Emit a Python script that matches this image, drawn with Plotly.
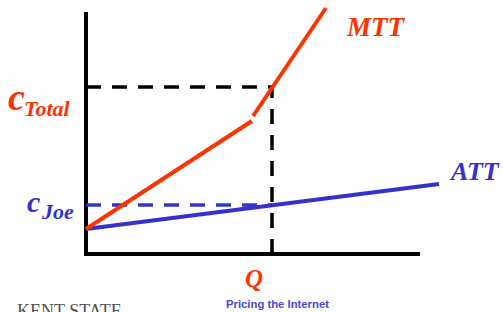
import plotly.graph_objects as go

# Abstract units: quantity on x, cost on y
intercept = 1.0
q_star = 1.0
c_total = 6.68
c_joe = 1.96

mtt_seg1_x = [0.0, 0.892]
mtt_seg1_y = [1.0, 5.32]
mtt_seg2_x = [0.898, 1.29]
mtt_seg2_y = [5.52, 9.84]
att_x = [0.0, 1.898]
att_y = [1.0, 2.8]
x_axis_end = 1.796
y_axis_end = 9.68

RED = "#ff3300"
BLUE = "#3333cc"
DASH = "15px,11px"

fig = go.Figure()
# axes
fig.add_trace(go.Scatter(x=[0, 0, x_axis_end], y=[y_axis_end, 0, 0], mode="lines",
                         line=dict(color="black", width=4), hoverinfo="skip"))
# dashed guides
fig.add_trace(go.Scatter(x=[0, q_star, q_star], y=[c_total, c_total, 0], mode="lines",
                         line=dict(color="black", width=3.5, dash=DASH), hoverinfo="skip"))
fig.add_trace(go.Scatter(x=[0, q_star], y=[c_joe, c_joe], mode="lines",
                         line=dict(color=BLUE, width=3.5, dash=DASH), hoverinfo="skip"))
# curves
fig.add_trace(go.Scatter(x=att_x, y=att_y, mode="lines",
                         line=dict(color=BLUE, width=4), hoverinfo="skip"))
fig.add_trace(go.Scatter(x=mtt_seg1_x, y=mtt_seg1_y, mode="lines",
                         line=dict(color=RED, width=4), hoverinfo="skip"))
fig.add_trace(go.Scatter(x=mtt_seg2_x, y=mtt_seg2_y, mode="lines",
                         line=dict(color=RED, width=4), hoverinfo="skip"))

W, H = 503, 312
def px(x):
    return x / W
def py(y):
    return 1 - y / H

SERIF = "Liberation Serif, Times New Roman, serif"
ann = []
def add(text, x, y, size, color, family=SERIF, xanchor="left", yanchor="middle"):
    ann.append(dict(text=text, x=px(x), y=py(y), xref="paper", yref="paper",
                    xanchor=xanchor, yanchor=yanchor, showarrow=False,
                    font=dict(family=family, size=size, color=color)))

add("<b><i>c</i></b>", 6, 97, 38, RED)
add("<b><i>Total</i></b>", 22, 108, 22, RED)
add("<b><i>c</i></b>", 25, 201, 30, BLUE)
add("<b><i>Joe</i></b>", 39, 211, 22, BLUE)
add("<b><i>MTT</i></b>", 344, 27, 27, RED)
add("<b><i>ATT</i></b>", 447, 171, 26, BLUE)
add("<b><i>Q</i></b>", 254, 278, 25, RED, xanchor="center")
add("<b>Pricing the Internet</b>", 277, 304, 11.3, "#4848e0", family="Liberation Sans, Arial, sans-serif", xanchor="center")
add("KENT STATE", 15, 311, 18, "#505050", xanchor="left")

x0_px, y0_px, ux, uy = 86, 254, 186, 25
fig.update_layout(
    width=W, height=H, margin=dict(l=0, r=0, t=0, b=0),
    paper_bgcolor="white", plot_bgcolor="white", showlegend=False,
    xaxis=dict(range=[-x0_px / ux, (W - x0_px) / ux], visible=False, fixedrange=True),
    yaxis=dict(range=[-(H - y0_px) / uy, y0_px / uy], visible=False, fixedrange=True),
    annotations=ann,
)
fig.write_html("out.html", config={"displayModeBar": False},
               post_script="document.body.style.margin='0';document.body.style.overflow='hidden';")
